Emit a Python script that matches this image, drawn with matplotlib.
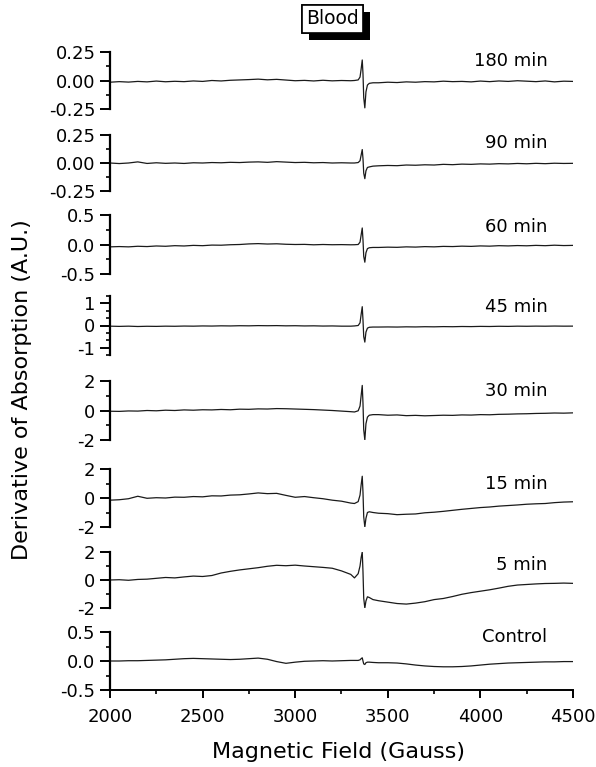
import numpy as np
import matplotlib
matplotlib.use("Agg")
import matplotlib.pyplot as plt
from matplotlib.ticker import FixedLocator, FormatStrFormatter
from matplotlib import patheffects

plt.rcParams['font.family'] = ['DejaVu Sans']
plt.rcParams['axes.unicode_minus'] = False

# magnetic field grid (Gauss)
field = np.r_[np.arange(2000, 3301, 50),
              [3320, 3340, 3350, 3356, 3362, 3366, 3370, 3376, 3382, 3390, 3400, 3420],
              np.arange(3450, 4501, 50)]

labels = ['180 min', '90 min', '60 min', '45 min', '30 min', '15 min', '5 min', 'Control']

y_180 = [-0.015, -0.010, -0.014, -0.008, -0.012, -0.005, -0.011, -0.007, -0.010, -0.004, -0.008, 0.000, -0.004,
         0.002, 0.005, 0.008, 0.012, 0.006, 0.010, 0.004, -0.002, 0.001, -0.004, 0.002, -0.003, 0.000, -0.002,
         0.000, 0.005, 0.030, 0.100, 0.180, 0.060, -0.150, -0.240, -0.100, -0.040, -0.025, -0.020,
         -0.020, -0.015, -0.018, -0.012, -0.015, -0.010, -0.012, -0.006, -0.010, -0.008, -0.012, -0.005,
         -0.010, -0.004, -0.008, -0.002, -0.006, -0.010, -0.004, -0.012, -0.006, -0.008]
y_90 = [0.000, -0.005, 0.000, 0.010, -0.004, 0.002, -0.003, 0.000, -0.004, 0.002, 0.000, 0.004, 0.002,
        0.006, 0.004, 0.008, 0.010, 0.006, 0.012, 0.008, 0.004, 0.006, 0.002, 0.004, 0.000, 0.002, 0.000,
        0.000, 0.004, 0.020, 0.070, 0.120, 0.040, -0.090, -0.140, -0.070, -0.040, -0.035, -0.028,
        -0.025, -0.022, -0.024, -0.018, -0.020, -0.016, -0.018, -0.012, -0.015, -0.010, -0.012, -0.008,
        -0.010, -0.006, -0.008, -0.004, -0.007, -0.003, -0.006, -0.002, -0.004, -0.003]
y_60 = [-0.040, -0.035, -0.040, -0.030, -0.035, -0.025, -0.030, -0.020, -0.025, -0.015, -0.020, -0.010, -0.012,
        -0.004, 0.000, 0.010, 0.015, 0.008, 0.012, 0.004, 0.000, 0.002, -0.005, 0.000, -0.004, -0.002, -0.005,
        -0.004, 0.000, 0.040, 0.160, 0.280, 0.080, -0.200, -0.300, -0.140, -0.070, -0.055, -0.050,
        -0.050, -0.045, -0.048, -0.040, -0.044, -0.036, -0.040, -0.032, -0.035, -0.028, -0.032, -0.024,
        -0.028, -0.020, -0.024, -0.018, -0.022, -0.015, -0.020, -0.012, -0.018, -0.015]
y_45 = [-0.030, -0.040, -0.030, -0.045, -0.035, -0.040, -0.030, -0.035, -0.025, -0.030, -0.020, -0.025, -0.015,
        -0.020, -0.010, -0.015, -0.005, -0.010, -0.005, -0.015, -0.010, -0.020, -0.015, -0.025, -0.020, -0.030, -0.030,
        -0.020, 0.000, 0.120, 0.500, 0.850, 0.250, -0.500, -0.750, -0.300, -0.120, -0.080, -0.070,
        -0.070, -0.065, -0.070, -0.060, -0.065, -0.055, -0.060, -0.050, -0.055, -0.045, -0.050, -0.040,
        -0.045, -0.035, -0.040, -0.030, -0.035, -0.028, -0.032, -0.025, -0.030, -0.028]
y_30 = [-0.05, -0.06, -0.03, -0.04, 0.00, -0.02, 0.02, 0.00, 0.04, 0.02, 0.05, 0.04, 0.07,
        0.05, 0.09, 0.08, 0.11, 0.10, 0.13, 0.12, 0.10, 0.08, 0.06, 0.03, 0.00, -0.04, -0.08,
        -0.10, -0.02, 0.30, 1.00, 1.70, 0.50, -1.30, -2.00, -0.90, -0.45, -0.32, -0.28,
        -0.28, -0.32, -0.30, -0.35, -0.33, -0.36, -0.34, -0.32, -0.33, -0.30, -0.31, -0.28,
        -0.29, -0.26, -0.25, -0.23, -0.22, -0.20, -0.19, -0.17, -0.18, -0.16]
y_15 = [-0.15, -0.12, -0.05, 0.12, -0.02, 0.02, 0.00, 0.06, 0.05, 0.10, 0.08, 0.15, 0.14,
        0.20, 0.22, 0.28, 0.35, 0.30, 0.32, 0.18, 0.05, 0.10, 0.02, -0.05, -0.15, -0.22, -0.35,
        -0.38, -0.25, 0.20, 0.90, 1.50, 0.40, -1.30, -2.00, -1.40, -1.00, -0.95, -1.00,
        -1.05, -1.08, -1.15, -1.12, -1.10, -1.02, -0.98, -0.92, -0.85, -0.78, -0.72, -0.66,
        -0.62, -0.56, -0.52, -0.48, -0.43, -0.40, -0.38, -0.32, -0.28, -0.26]
y_5 = [0.00, 0.02, -0.02, 0.04, 0.06, 0.12, 0.18, 0.15, 0.22, 0.28, 0.25, 0.32, 0.50,
       0.62, 0.72, 0.80, 0.88, 0.98, 1.05, 1.02, 1.06, 1.00, 0.95, 0.90, 0.84, 0.65, 0.40,
       0.15, 0.45, 1.00, 1.60, 2.00, 0.60, -1.30, -2.00, -1.50, -1.20, -1.25, -1.40,
       -1.48, -1.58, -1.68, -1.72, -1.65, -1.55, -1.40, -1.32, -1.18, -1.02, -0.90, -0.80,
       -0.70, -0.58, -0.45, -0.36, -0.32, -0.28, -0.25, -0.24, -0.22, -0.24]
y_ctrl = [0.000, 0.000, 0.005, 0.005, 0.010, 0.015, 0.020, 0.030, 0.040, 0.045, 0.040, 0.035, 0.030,
          0.025, 0.030, 0.040, 0.050, 0.030, -0.010, -0.040, -0.020, -0.005, 0.000, 0.005, 0.000, 0.005, 0.010,
          0.010, 0.010, 0.020, 0.040, 0.055, 0.000, -0.050, -0.060, -0.030, -0.020, -0.020, -0.025,
          -0.030, -0.030, -0.035, -0.050, -0.070, -0.085, -0.095, -0.100, -0.100, -0.095, -0.085, -0.070,
          -0.055, -0.045, -0.035, -0.030, -0.025, -0.020, -0.015, -0.015, -0.010, -0.010]

series = [y_180, y_90, y_60, y_45, y_30, y_15, y_5, y_ctrl]

# y axis setup per panel: limit, major ticks, minor ticks, format
lims = [0.25, 0.25, 0.5, 4 / 3, 2, 2, 2, 0.5]
majors = [[-0.25, 0, 0.25], [-0.25, 0, 0.25], [-0.5, 0, 0.5], [-1, 0, 1],
          [-2, 0, 2], [-2, 0, 2], [-2, 0, 2], [-0.5, 0, 0.5]]
minors = [[-0.125, 0.125], [-0.125, 0.125], [-0.25, 0.25], [-4 / 3, -2 / 3, -1 / 3, 1 / 3, 2 / 3, 4 / 3],
          [-1, 1], [-1, 1], [-1, 1], [-0.25, 0.25]]
fmts = ['%.2f', '%.2f', '%.1f', '%d', '%d', '%d', '%d', '%.1f']

# panel pixel extents (top, bottom) and label heights
W, H = 596, 767
spans = [(52, 109), (135, 191), (215, 274), (296, 355), (381, 440), (469, 527), (552, 608), (632, 690)]
label_y = [0.754, 0.77, 0.71, 0.73, 0.75, 0.66, 0.68, 0.83]

fig = plt.figure(figsize=(W / 100, H / 100), dpi=100)
left, right = 110, 573

for i, (top, bot) in enumerate(spans):
    ax = fig.add_axes([left / W, 1 - bot / H, (right - left) / W, (bot - top) / H])
    ax.plot(field, series[i], color='#1a1a1a', lw=0.9)
    ax.set_xlim(2000, 4500)
    ax.set_ylim(-lims[i], lims[i])
    ax.patch.set_visible(False)
    for s in ['top', 'right']:
        ax.spines[s].set_visible(False)
    ax.spines['left'].set_linewidth(1.6)
    ax.yaxis.set_major_locator(FixedLocator(majors[i]))
    ax.yaxis.set_minor_locator(FixedLocator(minors[i]))
    ax.yaxis.set_major_formatter(FormatStrFormatter(fmts[i]))
    ax.tick_params(axis='y', which='major', length=7, width=1.4, pad=3.5, labelsize=13)
    ax.tick_params(axis='y', which='minor', length=3, width=1.2)
    if i < len(spans) - 1:
        ax.spines['bottom'].set_visible(False)
        ax.tick_params(axis='x', which='both', bottom=False, labelbottom=False)
    else:
        ax.spines['bottom'].set_linewidth(1.4)
        ax.xaxis.set_major_locator(FixedLocator([2000, 2500, 3000, 3500, 4000, 4500]))
        ax.xaxis.set_minor_locator(FixedLocator([2250, 2750, 3250, 3750, 4250]))
        ax.tick_params(axis='x', which='major', length=6, width=1.4, pad=7, labelsize=13)
        ax.tick_params(axis='x', which='minor', length=3, width=1.2)
    ax.text(0.945, label_y[i], labels[i], transform=ax.transAxes, ha='right', va='baseline', fontsize=13)

fig.text(338 / W, 1 - 758 / H, 'Magnetic Field (Gauss)', ha='center', va='baseline', fontsize=16)
fig.text(22 / W, 1 - 390 / H, 'Derivative of Absorption (A.U.)', rotation=90, ha='center', va='center', fontsize=16)

t = fig.text(332.5 / W, 1 - 19 / H, 'Blood', ha='center', va='center', fontsize=13.5,
             bbox=dict(boxstyle='square,pad=0.22', fc='white', ec='black', lw=1.2))
t.get_bbox_patch().set_path_effects([
    patheffects.withSimplePatchShadow(offset=(5, -5), shadow_rgbFace='black', alpha=1.0),
    patheffects.Normal()])

fig.savefig('out.png', dpi=100)
